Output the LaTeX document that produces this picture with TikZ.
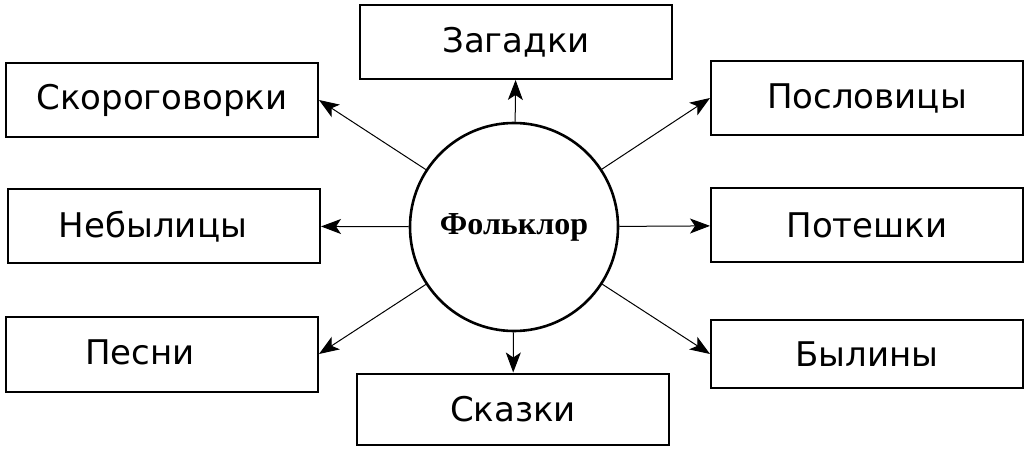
\documentclass[tikz,border=0pt]{standalone}
\usepackage{fontspec}
\setmainfont{DejaVu Sans}
\newfontfamily\folkfont{Liberation Serif}
\usetikzlibrary{arrows.meta}

\begin{document}
\begin{tikzpicture}[
            x = 0.5pt, y = -0.5pt, % one unit = one pixel
            box/.style = {draw, line width=1pt, minimum width=156pt,
                          minimum height=37pt, inner sep=0pt,
                          font=\fontsize{17}{20}\selectfont},
            arr/.style = {-{Stealth[length=10pt,width=7.5pt,inset=2.5pt]}, line width=0.5pt}
        ]
	\useasboundingbox (0,0) rectangle (1031,454);

	\node[draw, circle, line width=1.3pt, minimum size=104pt, inner sep=0pt,
	      font=\folkfont\bfseries\fontsize{16}{18}\selectfont] (folk) at (514,227) {Фольклор};

	\node[box] (zag) at (516,42) {Загадки};
	\node[box] (skor) at (162,100) {Скороговорки};
	\node[box] (neb) at (164,226) {};
	\node[box, minimum height=37.5pt] (pes) at (162,354) {};
	\node[box, minimum height=35.5pt] (skaz) at (513,409) {Сказки};
	\node[box] (posl) at (867,98) {Пословицы};
	\node[box, minimum height=36.5pt] (pot) at (867,225) {Потешки};
	\node[box, minimum height=34pt] (byl) at (867,354) {Былины};

	% texts set off the middle of their boxes
	\node[font=\fontsize{17}{20}\selectfont] (nebt) at (153,227) {Небылицы};
	\node[font=\fontsize{17}{20}\selectfont] (pest) at (140,352) {Песни};

	\draw[arr] (folk) -- (zag);
	\draw[arr] (folk) -- (skor.east);
	\draw[arr] (folk) -- (neb);
	\draw[arr] (folk) -- (pes.east);
	\draw[arr] (folk) -- (skaz);
	\draw[arr] (folk) -- (posl.west);
	\draw[arr] (folk) -- (pot);
	\draw[arr] (folk) -- (byl.west);
\end{tikzpicture}
\end{document}
